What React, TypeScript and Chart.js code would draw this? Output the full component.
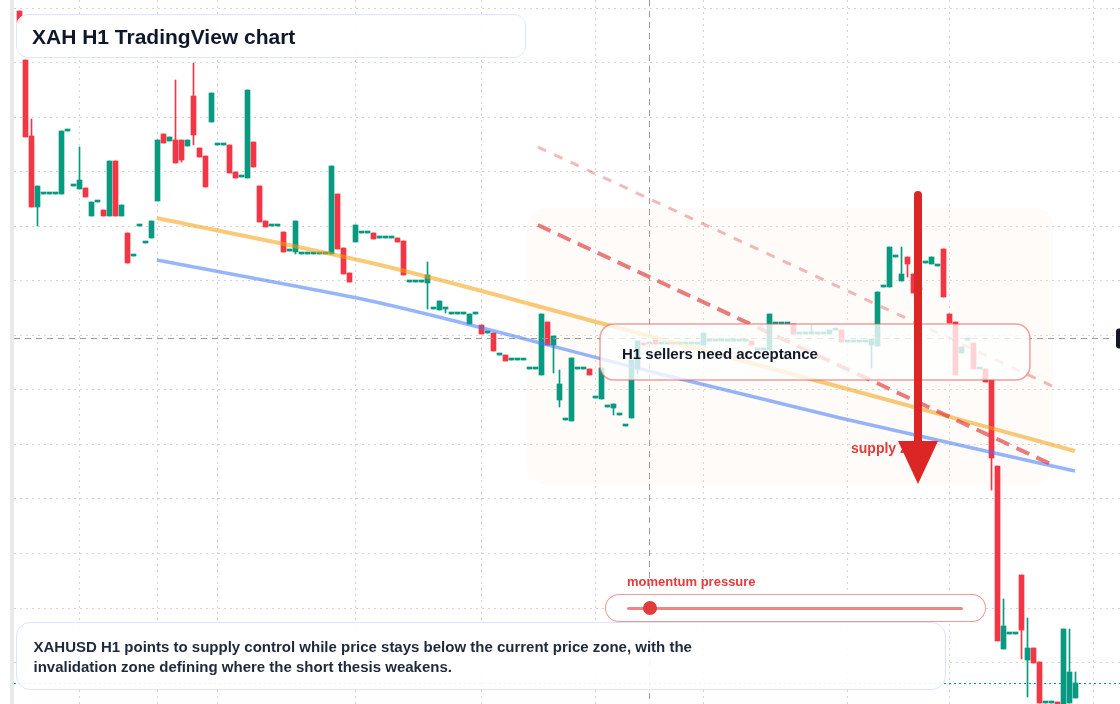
import React, { useEffect, useRef } from "react";
import { Chart, registerables } from "chart.js";

Chart.register(...registerables);

// ---------- DATA (XAHUSD H1 candles) ----------
const opens = [
  0.0989, 0.0940, 0.0864, 0.0793, 0.0806, 0.0806, 0.0806, 0.0806, 0.0869, 0.0814,
  0.0811, 0.0812, 0.0784, 0.0798, 0.0790, 0.0784, 0.0839, 0.0784, 0.0767, 0.0744,
  0.0774, 0.0757, 0.0762, 0.0799, 0.0866, 0.0859, 0.0860, 0.0860, 0.0854, 0.0904,
  0.0852, 0.0844, 0.0878, 0.0855, 0.0855, 0.0855, 0.0828, 0.0823, 0.0822, 0.0858,
  0.0814, 0.0779, 0.0774, 0.0774, 0.0768, 0.0749, 0.0748, 0.0746, 0.0746, 0.0746,
  0.0746, 0.0746, 0.0746, 0.0806, 0.0752, 0.0727, 0.0758, 0.0767, 0.0767, 0.0767,
  0.0762, 0.0762, 0.0762, 0.0762, 0.0759, 0.0718, 0.0718, 0.0718, 0.0717, 0.0691,
  0.0690, 0.0691, 0.0686, 0.0686, 0.0686, 0.0676, 0.0686, 0.0675, 0.0667, 0.0667,
  0.0645, 0.0645, 0.0640, 0.0640, 0.0640, 0.0631, 0.0631, 0.0625, 0.0678, 0.0655,
  0.0600, 0.0580, 0.0579, 0.0631, 0.0631, 0.0631, 0.0602, 0.0601, 0.0593, 0.0592,
  0.0585, 0.0574, 0.0582, 0.0631, 0.0657, 0.0656, 0.0660, 0.0656, 0.0656, 0.0656,
  0.0656, 0.0656, 0.0656, 0.0656, 0.0655, 0.0659, 0.0659, 0.0659, 0.0659, 0.0659,
  0.0659, 0.0659, 0.0659, 0.0650, 0.0650, 0.0650, 0.0676, 0.0676, 0.0676, 0.0676,
  0.0666, 0.0666, 0.0666, 0.0666, 0.0666, 0.0666, 0.0670, 0.0670, 0.0658, 0.0658,
  0.0658, 0.0658, 0.0655, 0.0654, 0.0713, 0.0713, 0.0743, 0.0719, 0.0743, 0.0726,
  0.0710, 0.0737, 0.0736, 0.0734, 0.0751, 0.0686, 0.0678, 0.0647, 0.0660, 0.0657,
  0.0631, 0.0631, 0.0620, 0.0534, 0.0351, 0.0366, 0.0366, 0.0425, 0.0340, 0.0352,
  0.0338, 0.0297, 0.0297, 0.0298, 0.0294, 0.0297, 0.0302,
];
const highs = [
  0.0989, 0.0940, 0.0881, 0.0814, 0.0806, 0.0806, 0.0806, 0.0869, 0.0869, 0.0814,
  0.0853, 0.0812, 0.0798, 0.0798, 0.0790, 0.0839, 0.0839, 0.0795, 0.0767, 0.0744,
  0.0774, 0.0757, 0.0779, 0.0860, 0.0866, 0.0863, 0.0920, 0.0860, 0.0860, 0.0937,
  0.0852, 0.0844, 0.0907, 0.0855, 0.0855, 0.0855, 0.0828, 0.0823, 0.0910, 0.0858,
  0.0814, 0.0779, 0.0774, 0.0774, 0.0768, 0.0749, 0.0779, 0.0746, 0.0746, 0.0746,
  0.0746, 0.0746, 0.0834, 0.0806, 0.0752, 0.0727, 0.0775, 0.0767, 0.0767, 0.0767,
  0.0762, 0.0762, 0.0762, 0.0762, 0.0759, 0.0718, 0.0718, 0.0718, 0.0738, 0.0691,
  0.0699, 0.0691, 0.0686, 0.0686, 0.0686, 0.0686, 0.0686, 0.0675, 0.0667, 0.0667,
  0.0645, 0.0645, 0.0640, 0.0640, 0.0640, 0.0631, 0.0631, 0.0686, 0.0678, 0.0664,
  0.0630, 0.0580, 0.0642, 0.0631, 0.0631, 0.0631, 0.0602, 0.0632, 0.0593, 0.0596,
  0.0585, 0.0574, 0.0640, 0.0659, 0.0657, 0.0656, 0.0660, 0.0656, 0.0656, 0.0656,
  0.0656, 0.0656, 0.0656, 0.0656, 0.0667, 0.0659, 0.0659, 0.0659, 0.0659, 0.0659,
  0.0659, 0.0659, 0.0659, 0.0650, 0.0650, 0.0686, 0.0676, 0.0676, 0.0676, 0.0676,
  0.0666, 0.0666, 0.0675, 0.0666, 0.0666, 0.0670, 0.0670, 0.0670, 0.0658, 0.0658,
  0.0658, 0.0658, 0.0661, 0.0708, 0.0713, 0.0753, 0.0743, 0.0753, 0.0743, 0.0726,
  0.0710, 0.0737, 0.0743, 0.0734, 0.0751, 0.0686, 0.0678, 0.0653, 0.0660, 0.0657,
  0.0631, 0.0631, 0.0620, 0.0534, 0.0401, 0.0366, 0.0366, 0.0425, 0.0382, 0.0352,
  0.0338, 0.0297, 0.0297, 0.0298, 0.0371, 0.0371, 0.0328,
];
const lows = [
  0.0977, 0.0863, 0.0793, 0.0774, 0.0806, 0.0806, 0.0806, 0.0806, 0.0869, 0.0814,
  0.0811, 0.0803, 0.0784, 0.0798, 0.0784, 0.0784, 0.0784, 0.0784, 0.0737, 0.0744,
  0.0774, 0.0757, 0.0762, 0.0799, 0.0857, 0.0859, 0.0837, 0.0838, 0.0854, 0.0855,
  0.0843, 0.0813, 0.0878, 0.0855, 0.0855, 0.0827, 0.0822, 0.0823, 0.0822, 0.0833,
  0.0778, 0.0773, 0.0774, 0.0774, 0.0748, 0.0749, 0.0746, 0.0746, 0.0746, 0.0746,
  0.0746, 0.0746, 0.0746, 0.0751, 0.0726, 0.0718, 0.0758, 0.0767, 0.0767, 0.0761,
  0.0762, 0.0762, 0.0762, 0.0758, 0.0725, 0.0718, 0.0718, 0.0718, 0.0691, 0.0691,
  0.0690, 0.0687, 0.0686, 0.0686, 0.0686, 0.0676, 0.0686, 0.0666, 0.0667, 0.0649,
  0.0645, 0.0639, 0.0640, 0.0640, 0.0640, 0.0631, 0.0631, 0.0625, 0.0655, 0.0627,
  0.0593, 0.0580, 0.0579, 0.0631, 0.0631, 0.0625, 0.0602, 0.0601, 0.0593, 0.0585,
  0.0585, 0.0574, 0.0582, 0.0626, 0.0655, 0.0656, 0.0656, 0.0656, 0.0656, 0.0656,
  0.0656, 0.0656, 0.0656, 0.0656, 0.0655, 0.0659, 0.0659, 0.0659, 0.0659, 0.0659,
  0.0659, 0.0659, 0.0655, 0.0650, 0.0650, 0.0650, 0.0676, 0.0676, 0.0676, 0.0666,
  0.0666, 0.0666, 0.0666, 0.0666, 0.0666, 0.0666, 0.0670, 0.0658, 0.0658, 0.0658,
  0.0658, 0.0658, 0.0632, 0.0654, 0.0713, 0.0713, 0.0743, 0.0719, 0.0723, 0.0707,
  0.0710, 0.0737, 0.0736, 0.0734, 0.0703, 0.0677, 0.0625, 0.0647, 0.0660, 0.0631,
  0.0631, 0.0618, 0.0510, 0.0359, 0.0351, 0.0366, 0.0366, 0.0341, 0.0303, 0.0337,
  0.0297, 0.0297, 0.0297, 0.0296, 0.0294, 0.0297, 0.0302,
];
const closes = [
  0.0977, 0.0863, 0.0793, 0.0814, 0.0806, 0.0806, 0.0806, 0.0869, 0.0869, 0.0814,
  0.0820, 0.0803, 0.0798, 0.0798, 0.0784, 0.0839, 0.0784, 0.0795, 0.0737, 0.0744,
  0.0774, 0.0757, 0.0779, 0.0860, 0.0857, 0.0863, 0.0837, 0.0840, 0.0860, 0.0865,
  0.0843, 0.0813, 0.0907, 0.0855, 0.0855, 0.0827, 0.0822, 0.0823, 0.0910, 0.0833,
  0.0778, 0.0773, 0.0774, 0.0774, 0.0748, 0.0749, 0.0779, 0.0746, 0.0746, 0.0746,
  0.0746, 0.0746, 0.0834, 0.0751, 0.0726, 0.0718, 0.0775, 0.0767, 0.0767, 0.0761,
  0.0762, 0.0762, 0.0762, 0.0758, 0.0725, 0.0718, 0.0718, 0.0718, 0.0725, 0.0691,
  0.0699, 0.0691, 0.0686, 0.0686, 0.0686, 0.0686, 0.0686, 0.0666, 0.0667, 0.0649,
  0.0645, 0.0639, 0.0640, 0.0640, 0.0640, 0.0631, 0.0631, 0.0686, 0.0655, 0.0664,
  0.0616, 0.0580, 0.0642, 0.0631, 0.0631, 0.0625, 0.0602, 0.0632, 0.0593, 0.0596,
  0.0585, 0.0574, 0.0640, 0.0659, 0.0655, 0.0656, 0.0656, 0.0656, 0.0656, 0.0656,
  0.0656, 0.0656, 0.0656, 0.0656, 0.0667, 0.0659, 0.0659, 0.0659, 0.0659, 0.0659,
  0.0659, 0.0659, 0.0655, 0.0650, 0.0650, 0.0686, 0.0676, 0.0676, 0.0676, 0.0666,
  0.0666, 0.0666, 0.0666, 0.0666, 0.0666, 0.0670, 0.0670, 0.0658, 0.0658, 0.0658,
  0.0658, 0.0658, 0.0661, 0.0708, 0.0713, 0.0753, 0.0743, 0.0726, 0.0736, 0.0707,
  0.0710, 0.0737, 0.0743, 0.0734, 0.0703, 0.0677, 0.0625, 0.0653, 0.0660, 0.0631,
  0.0631, 0.0618, 0.0542, 0.0359, 0.0374, 0.0366, 0.0366, 0.0370, 0.0352, 0.0337,
  0.0297, 0.0297, 0.0297, 0.0296, 0.0371, 0.0328, 0.0317,
];

// Trend lines (x = bar index, y = price)
const orangeX = [22.9, 60.1, 96.8, 136.8, 175.9];
const orangeY = [0.0782, 0.0735, 0.0677, 0.0613, 0.0549];
const blueX = [22.9, 46.8, 60.1, 106.8, 136.8, 175.9];
const blueY = [0.0740, 0.0713, 0.0697, 0.0626, 0.0582, 0.0529];
const redDashX = [86.4, 172.2];
const redDashY = [0.0775, 0.0535];
const pinkDashX = [86.4, 172.1];
const pinkDashY = [0.0853, 0.0614];

// Grid ticks
const xGridIdx = [10, 23, 33, 56, 77, 96, 114, 138, 155, 179];
const yGridPrices = [0.0992, 0.09375, 0.08829, 0.08284, 0.07738, 0.07193, 0.06647, 0.06102, 0.05556, 0.05011, 0.04465, 0.0392, 0.03374];

// Annotation anchors (bar index / price)
const crossIdx = 105;
const crossPrice = 0.0662;
const zoneBox = { from: 84.6, to: 172.25, top: 0.0792, bottom: 0.0516 };
const noteBox = { from: 96.75, to: 168.4, top: 0.0676, bottom: 0.0620 };
const arrowSpec = { idx: 149.75, from: 0.0805, to: 0.0516 };

const UP = "#089981";
const DOWN = "#f23645";
const FONT = '"Liberation Sans", Arial, sans-serif';

function rr(ctx: CanvasRenderingContext2D, x: number, y: number, w: number, h: number, r: number) {
  ctx.beginPath();
  ctx.roundRect(x, y, w, h, r);
}

const overlayPlugin = {
  id: "overlays",
  beforeDatasetsDraw(chart: any) {
    const { ctx, scales } = chart;
    const x = scales.x, y = scales.y;
    const x0 = x.getPixelForValue(zoneBox.from), x1 = x.getPixelForValue(zoneBox.to);
    const y0 = y.getPixelForValue(zoneBox.top), y1 = y.getPixelForValue(zoneBox.bottom);
    ctx.save();
    rr(ctx, x0, y0, x1 - x0, y1 - y0, 18);
    ctx.fillStyle = "rgba(250, 228, 214, 0.14)";
    ctx.fill();
    ctx.restore();
  },
  afterDatasetsDraw(chart: any) {
    const { ctx, scales, chartArea } = chart;
    const x = scales.x, y = scales.y;
    ctx.save();
    // crosshair
    const cx = x.getPixelForValue(crossIdx);
    const cy = Math.round(y.getPixelForValue(crossPrice)) + 0.5;
    ctx.strokeStyle = "#9b9b9b";
    ctx.lineWidth = 1;
    ctx.setLineDash([6, 5]);
    ctx.beginPath();
    ctx.moveTo(cx, chartArea.top);
    ctx.lineTo(cx, chartArea.bottom);
    ctx.moveTo(chartArea.left, cy);
    ctx.lineTo(1111, cy);
    ctx.stroke();
    // last price line
    const ly = Math.round(y.getPixelForValue(closes[closes.length - 1])) + 0.5;
    ctx.strokeStyle = UP;
    ctx.setLineDash([2, 3]);
    ctx.beginPath();
    ctx.moveTo(chartArea.left, ly);
    ctx.lineTo(chartArea.right, ly);
    ctx.stroke();
    ctx.setLineDash([]);

    // text box
    const bx0 = x.getPixelForValue(noteBox.from), bx1 = x.getPixelForValue(noteBox.to);
    const by0 = y.getPixelForValue(noteBox.top), by1 = y.getPixelForValue(noteBox.bottom);
    rr(ctx, bx0, by0, bx1 - bx0, by1 - by0, 14);
    ctx.fillStyle = "rgba(255,255,255,0.78)";
    ctx.fill();
    ctx.strokeStyle = "rgba(229, 83, 83, 0.55)";
    ctx.lineWidth = 1.5;
    ctx.stroke();
    ctx.fillStyle = "#111827";
    ctx.font = `bold 15px ${FONT}`;
    ctx.textBaseline = "middle";
    ctx.fillText("H1 sellers need acceptance", bx0 + 22, (by0 + by1) / 2 + 3);

    // supply zone label
    ctx.fillStyle = "#e23b3b";
    ctx.font = `bold 14px ${FONT}`;
    ctx.fillText("supply zone", 851, y.getPixelForValue(0.0552) + 1);

    // arrow
    const ax = x.getPixelForValue(arrowSpec.idx);
    const ay0 = y.getPixelForValue(arrowSpec.from);
    const ay1 = y.getPixelForValue(arrowSpec.to);
    ctx.strokeStyle = "#dc2626";
    ctx.fillStyle = "#dc2626";
    ctx.lineWidth = 8;
    ctx.lineCap = "round";
    ctx.beginPath();
    ctx.moveTo(ax, ay0);
    ctx.lineTo(ax, ay1 - 40);
    ctx.stroke();
    ctx.beginPath();
    ctx.moveTo(ax - 20, ay1 - 43);
    ctx.lineTo(ax + 20, ay1 - 43);
    ctx.lineTo(ax, ay1);
    ctx.closePath();
    ctx.fill();

    // right price label stub
    rr(ctx, 1116, cy - 10, 20, 20, 3);
    ctx.fillStyle = "#131722";
    ctx.fill();
    ctx.restore();
  },
  afterDraw(chart: any) {
    const { ctx } = chart;
    ctx.save();
    ctx.fillStyle = "#e9e9e9";
    ctx.fillRect(10, 0, 4, 704);
    ctx.restore();
  },
};

export default function App() {
  const ref = useRef<HTMLCanvasElement>(null);

  useEffect(() => {
    document.body.style.margin = "0";
    const idx = opens.map((_, i) => i);
    const colors = idx.map((i) => (closes[i] >= opens[i] ? UP : DOWN));
    const chart = new Chart(ref.current as HTMLCanvasElement, {
      type: "bar",
      data: {
        datasets: [
          {
            type: "line",
            data: redDashX.map((v, k) => ({ x: v, y: redDashY[k] })),
            borderColor: "rgba(220, 38, 38, 0.6)",
            borderWidth: 4,
            borderDash: [14, 8],
            pointRadius: 0,
            order: 0,
          },
          {
            type: "line",
            data: pinkDashX.map((v, k) => ({ x: v, y: pinkDashY[k] })),
            borderColor: "rgba(220, 38, 38, 0.32)",
            borderWidth: 3,
            borderDash: [9, 9],
            pointRadius: 0,
            order: 1,
          },
          {
            type: "line",
            data: orangeX.map((v, k) => ({ x: v, y: orangeY[k] })),
            borderColor: "rgba(245, 158, 11, 0.55)",
            borderWidth: 4,
            pointRadius: 0,
            cubicInterpolationMode: "monotone",
            order: 2,
          },
          {
            type: "line",
            data: blueX.map((v, k) => ({ x: v, y: blueY[k] })),
            borderColor: "rgba(66, 120, 246, 0.55)",
            borderWidth: 3.5,
            pointRadius: 0,
            cubicInterpolationMode: "monotone",
            order: 3,
          },
          {
            type: "bar",
            data: idx.map((i) => ({ x: i, y: [opens[i], closes[i]] })),
            backgroundColor: colors,
            barThickness: 5,
            minBarLength: 2,
            grouped: false,
            borderWidth: 0,
            order: 4,
          },
          {
            type: "bar",
            data: idx.map((i) => ({ x: i, y: [lows[i], highs[i]] })),
            backgroundColor: colors,
            barThickness: 1,
            grouped: false,
            borderWidth: 0,
            order: 5,
          },
        ] as any,
      },
      options: {
        animation: false,
        responsive: false,
        maintainAspectRatio: false,
        layout: { padding: { left: 14, right: 0, top: 0, bottom: 0 } },
        plugins: { legend: { display: false }, tooltip: { enabled: false }, title: { display: false } },
        scales: {
          x: {
            type: "linear",
            min: -0.9167,
            max: 183.4167,
            offset: false,
            ticks: { display: false },
            grid: { color: "rgba(0,0,0,0.17)", drawTicks: false, offset: false },
            border: { display: false, dash: [2, 4] },
            afterBuildTicks: (axis: any) => {
              axis.ticks = xGridIdx.map((v) => ({ value: v }));
            },
          },
          y: {
            type: "linear",
            min: 0.0296,
            max: 0.1,
            beginAtZero: false,
            ticks: { display: false },
            grid: { color: "rgba(0,0,0,0.17)", drawTicks: false },
            border: { display: false, dash: [2, 4] },
            afterBuildTicks: (axis: any) => {
              axis.ticks = yGridPrices.map((v) => ({ value: v }));
            },
          },
        },
      } as any,
      plugins: [overlayPlugin],
    });
    return () => chart.destroy();
  }, []);

  const boxBorder = "1.5px solid #dbe6fb";
  return (
    <div style={{ position: "fixed", left: 0, top: 0, width: 1120, height: 704, background: "#fff", overflow: "hidden", fontFamily: FONT }}>
      <canvas ref={ref} width={1120} height={704} style={{ position: "absolute", left: 0, top: 0, width: 1120, height: 704 }} />
      <div
        style={{
          position: "absolute", left: 16, top: 14, width: 510, height: 44, boxSizing: "border-box",
          border: boxBorder, borderRadius: 12, background: "rgba(255,255,255,0.9)",
          display: "flex", alignItems: "center", paddingLeft: 15, paddingTop: 1,
          fontWeight: 700, fontSize: 21, color: "#0f172a",
        }}
      >
        XAH H1 TradingView chart
      </div>
      <div
        style={{
          position: "absolute", left: 627, top: 574, fontWeight: 700, fontSize: 13, lineHeight: "16px", color: "#e23b3b",
        }}
      >
        momentum pressure
      </div>
      <div
        style={{
          position: "absolute", left: 605, top: 594, width: 381, height: 28, boxSizing: "border-box",
          border: "1.5px solid rgba(229,83,83,0.6)", borderRadius: 14, background: "#fff",
        }}
      />
      <div style={{ position: "absolute", left: 627, top: 606.5, width: 336, height: 3, background: "rgba(229,83,83,0.7)", borderRadius: 2 }} />
      <div style={{ position: "absolute", left: 643, top: 601, width: 14, height: 14, borderRadius: "50%", background: "#e03c3c" }} />
      <div
        style={{
          position: "absolute", left: 16, top: 622, width: 930, height: 68, boxSizing: "border-box",
          border: boxBorder, borderRadius: 14, background: "rgba(255,255,255,0.9)",
          padding: "13.5px 16px 0 16.5px", fontWeight: 700, fontSize: 15, lineHeight: "20px", color: "#1e293b",
        }}
      >
        XAHUSD H1 points to supply control while price stays below the current price zone, with the
        <br />
        invalidation zone defining where the short thesis weakens.
      </div>
    </div>
  );
}
